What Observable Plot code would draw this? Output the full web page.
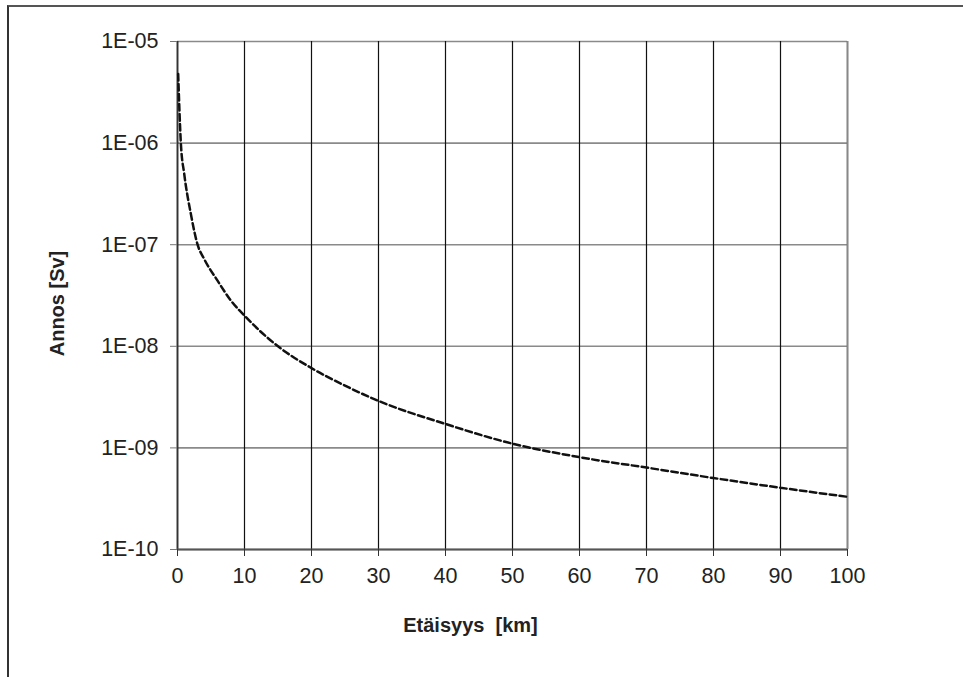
<!DOCTYPE html>
<html>
<head>
<meta charset="utf-8">
<script src="https://cdn.jsdelivr.net/npm/d3@7"></script>
<script src="https://cdn.jsdelivr.net/npm/@observablehq/plot@0.6"></script>
<style>
  html, body { margin: 0; padding: 0; background: #fff; overflow: hidden; }
  #wrap { position: relative; width: 963px; height: 677px; }
  #frame { position: absolute; left: 7px; top: 5px; width: 970px; height: 690px;
           border-top: 2px solid #555; border-left: 2px solid #333; pointer-events: none; }
</style>
</head>
<body>
<div id="wrap"><div id="chart"></div><div id="frame"></div></div>
<script>
// Distance (km) and dose (Sv)
const distance = [0.1, 0.5, 1, 2, 3, 4, 6, 8, 10, 15, 20, 25, 30, 40, 50, 60, 70, 80, 90, 100];
const dose = [4.8e-6, 1.0e-6, 5.0e-7, 2.0e-7, 1.0e-7, 7.2e-8, 4.4e-8, 2.8e-8, 2.0e-8, 1.0e-8,
              6.1e-9, 4.1e-9, 2.9e-9, 1.72e-9, 1.1e-9, 8.1e-10, 6.4e-10, 5.05e-10, 4.05e-10, 3.3e-10];

const xTicks = [0, 10, 20, 30, 40, 50, 60, 70, 80, 90, 100];
const yTicks = [1e-10, 1e-9, 1e-8, 1e-7, 1e-6, 1e-5];
const yTickLabels = ["1E-10", "1E-09", "1E-08", "1E-07", "1E-06", "1E-05"];
const xTitle = "Etäisyys  [km]";
const yTitle = "Annos [Sv]";

const data = distance.map((d, i) => ({distance: d, dose: dose[i]}));

const chart = Plot.plot({
  width: 963,
  height: 677,
  marginLeft: 177,
  marginRight: 116,
  marginTop: 41,
  marginBottom: 128,
  style: {fontFamily: "'Liberation Sans', Arial, sans-serif", fontSize: "21.5px", background: "#fff", color: "#222"},
  x: {domain: [0, 100]},
  y: {type: "log", domain: [1e-10, 1e-5]},
  marks: [
    Plot.ruleY(yTicks, {stroke: "#8a8a8a", strokeWidth: 1.6}),
    Plot.ruleX(xTicks, {stroke: "#111", strokeWidth: 1.2}),
    Plot.ruleX([0], {stroke: "#333", strokeWidth: 1.8}),
    Plot.ruleX([100], {stroke: "#888", strokeWidth: 1.8}),
    Plot.ruleY([1e-10], {stroke: "#555", strokeWidth: 1.8}),
    Plot.line(data, {x: "distance", y: "dose", curve: "monotone-x", stroke: "#111",
                     strokeWidth: 2.5, strokeDasharray: "6.5,3.5"}),
    Plot.axisY({ticks: yTicks, tickFormat: d => yTickLabels[yTicks.indexOf(d)],
                tickSize: 7, tickPadding: 12, label: null, stroke: "#777", fontSize: 21.5}),
    Plot.axisX({ticks: xTicks, tickFormat: d => String(d), tickSize: 7, tickPadding: 11,
                label: null, stroke: "#333", fontSize: 21.5}),
    Plot.text([xTitle], {frameAnchor: "bottom", textAnchor: "middle", lineAnchor: "middle",
                         dx: -42, dy: 76, fontWeight: "bold", fontSize: 20, fill: "#222"}),
    Plot.text([yTitle], {frameAnchor: "left", textAnchor: "middle", lineAnchor: "middle",
                         dx: -120, dy: 8, rotate: -90, fontWeight: "bold", fontSize: 20, fill: "#222"})
  ]
});
document.getElementById("chart").appendChild(chart);
</script>
</body>
</html>
